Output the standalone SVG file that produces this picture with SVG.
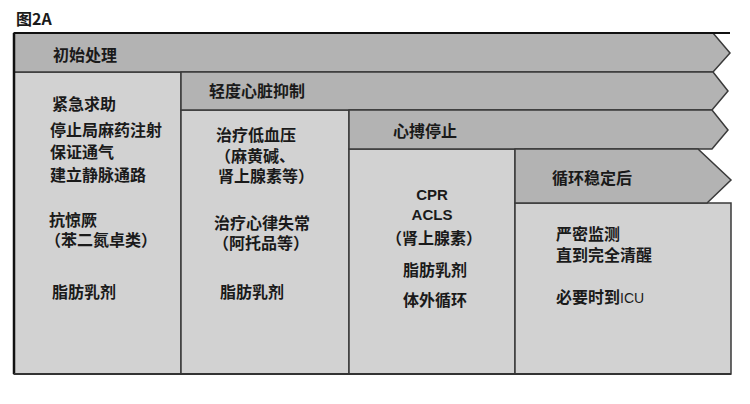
<svg xmlns="http://www.w3.org/2000/svg" width="750" height="404" viewBox="0 0 750 404">
<style>
.band{fill:#b3b3b3;stroke:#3a3a3a;stroke-width:1.5;stroke-linejoin:miter}
.box{fill:#d2d2d2;stroke:#3a3a3a;stroke-width:1.5}
.t{font-family:"Noto Sans CJK SC","Liberation Sans",sans-serif;font-size:16px;font-weight:700;fill:#1a1a1a}
.l{font-family:"Liberation Sans","Noto Sans CJK SC",sans-serif;font-size:15px;font-weight:700;fill:#1a1a1a}
.m{text-anchor:middle}
</style>
<rect width="750" height="404" fill="#ffffff"/>
<text class="t" x="16" y="25" font-size="17">图2A</text>
<g id="col1">
<rect class="box" x="14" y="72" width="167" height="302"/>
<text class="t" x="52" y="110">紧急求助</text>
<text class="t" x="50" y="136">停止局麻药注射</text>
<text class="t" x="50" y="158">保证通气</text>
<text class="t" x="50" y="181">建立静脉通路</text>
<text class="t" x="49" y="226">抗惊厥</text>
<text class="t" x="45" y="246">（苯二氮卓类）</text>
<text class="t" x="52" y="298">脂肪乳剂</text>
</g>
<g id="col2">
<rect class="box" x="181" y="110" width="168" height="264"/>
<text class="t" x="216" y="141">治疗低血压</text>
<text class="t" x="215" y="162">（麻黄碱、</text>
<text class="t" x="218" y="182">肾上腺素等）</text>
<text class="t" x="214" y="229">治疗心律失常</text>
<text class="t" x="213" y="249">（阿托品等）</text>
<text class="t" x="220" y="298">脂肪乳剂</text>
</g>
<g id="col3">
<rect class="box" x="349" y="149" width="166" height="225"/>
<text class="l m" x="432" y="200">CPR</text>
<text class="l m" x="432" y="220">ACLS</text>
<text class="t m" x="434" y="244">（肾上腺素）</text>
<text class="t m" x="435" y="276">脂肪乳剂</text>
<text class="t m" x="435" y="306">体外循环</text>
</g>
<g id="col4">
<rect class="box" x="515" y="203" width="216" height="171"/>
<text class="t" x="556" y="240">严密监测</text>
<text class="t" x="556" y="261">直到完全清醒</text>
<text class="t" x="556" y="303">必要时到<tspan font-family="Liberation Sans,sans-serif" font-weight="400" font-size="14">ICU</tspan></text>
</g>
<g id="band1">
<polygon class="band" points="14,33 713,33 730,53 713,72 14,72"/>
<text class="t" x="53" y="61">初始处理</text>
</g>
<g id="band2">
<polygon class="band" points="181,72 713,72 728,91 712,110 181,110"/>
<text class="t" x="209" y="97">轻度心脏抑制</text>
</g>
<g id="band3">
<polygon class="band" points="349,110 712,110 728,130 712,149 349,149"/>
<text class="t" x="393" y="137">心搏停止</text>
</g>
<g id="band4">
<polygon class="band" points="515,149 698,149 731,180 707,203 515,203"/>
<text class="t" x="552" y="184">循环稳定后</text>
</g>
<g id="connectors">
<line x1="14" y1="33" x2="730" y2="33" stroke="#111" stroke-width="2"/>
<line x1="14" y1="33" x2="14" y2="374" stroke="#111" stroke-width="2.5"/>
<line x1="14" y1="374" x2="731" y2="374" stroke="#333" stroke-width="2"/>
</g>
</svg>
